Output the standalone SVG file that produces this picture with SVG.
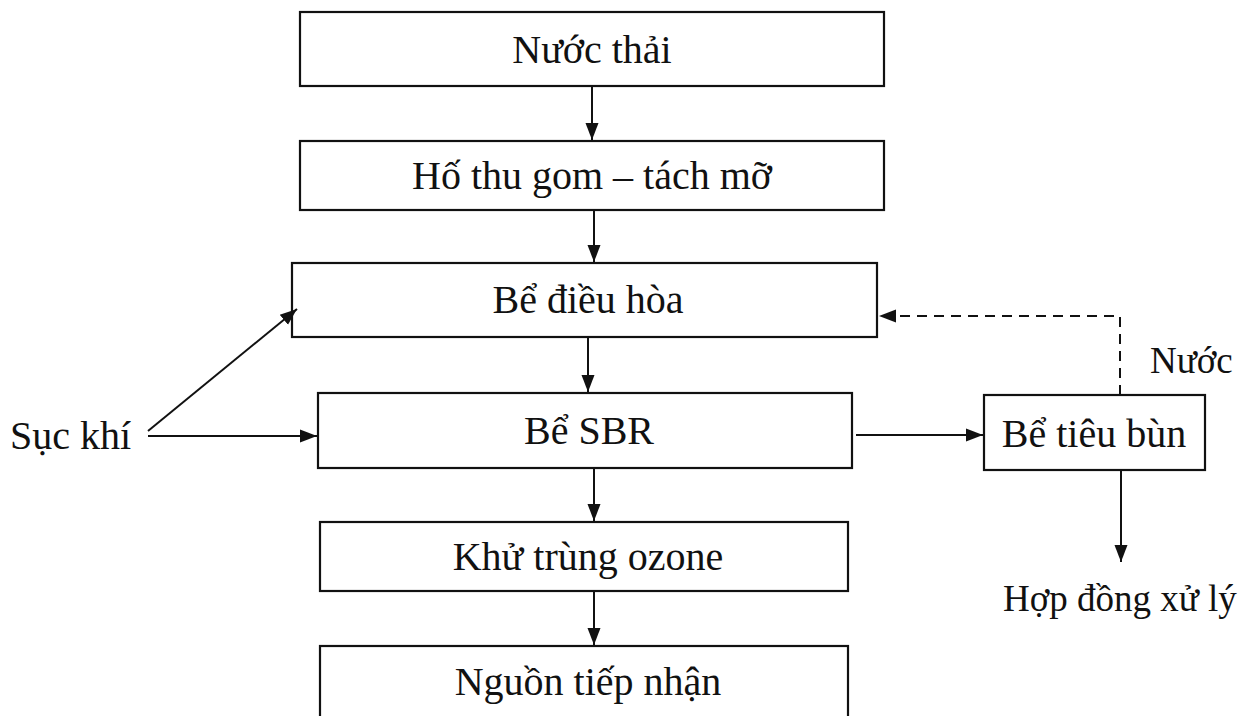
<svg xmlns="http://www.w3.org/2000/svg" width="1241" height="716" viewBox="0 0 1241 716">
<defs>
<style>
.box{fill:#fff;stroke:#111;stroke-width:2.2}
.t{font-family:"Liberation Serif","Times New Roman",serif;font-size:40px;fill:#111}
.s{font-size:37px}
.c{text-anchor:middle}
.ln{stroke:#111;stroke-width:2;fill:none}
.dash{stroke-dasharray:10 7}
</style>
<marker id="ah" markerUnits="userSpaceOnUse" markerWidth="18" markerHeight="16" refX="17" refY="8" orient="auto">
<path d="M0,1.5 L17,8 L0,14.5 Z" fill="#111"/>
</marker>
</defs>
<rect width="1241" height="716" fill="#fff"/>
<g id="n1"><rect class="box" x="300" y="12" width="584" height="74"/><text class="t c" x="592" y="63">Nước thải</text></g>
<g id="n2"><rect class="box" x="300" y="141" width="584" height="69"/><text class="t c" x="592" y="189">Hố thu gom – tách mỡ</text></g>
<g id="n3"><rect class="box" x="292" y="263" width="585" height="74"/><text class="t c" x="588" y="313">Bể điều hòa</text></g>
<g id="n4"><rect class="box" x="318" y="393" width="534" height="75"/><text class="t c" x="589" y="444">Bể SBR</text></g>
<g id="n5"><rect class="box" x="320" y="522" width="528" height="69"/><text class="t c" x="588" y="570">Khử trùng ozone</text></g>
<g id="n6"><rect class="box" x="320" y="646" width="528" height="80"/><text class="t c" x="588" y="695">Nguồn tiếp nhận</text></g>
<g id="n7"><rect class="box" x="984" y="395" width="221" height="75"/><text class="t c" x="1094" y="447">Bể tiêu bùn</text></g>
<g id="l1"><text class="t" x="10" y="449">Sục khí</text></g>
<g id="l2"><text class="t s" x="1150" y="373">Nước</text></g>
<g id="l3"><text class="t s" x="1003" y="611">Hợp đồng xử lý</text></g>
<g id="connectors">
<line class="ln" x1="592" y1="86" x2="592" y2="140" marker-end="url(#ah)"/>
<line class="ln" x1="594" y1="210" x2="594" y2="262" marker-end="url(#ah)"/>
<line class="ln" x1="588" y1="337" x2="588" y2="392" marker-end="url(#ah)"/>
<line class="ln" x1="594" y1="468" x2="594" y2="521" marker-end="url(#ah)"/>
<line class="ln" x1="594" y1="591" x2="594" y2="645" marker-end="url(#ah)"/>
<line class="ln" x1="148" y1="436" x2="317" y2="436" marker-end="url(#ah)"/>
<line class="ln" x1="148" y1="431" x2="297" y2="309" marker-end="url(#ah)"/>
<line class="ln" x1="856" y1="435" x2="983" y2="435" marker-end="url(#ah)"/>
<line class="ln" x1="1121" y1="470" x2="1121" y2="562" marker-end="url(#ah)"/>
<polyline class="ln dash" points="1120,395 1120,316 879,316" marker-end="url(#ah)"/>
</g>
</svg>
